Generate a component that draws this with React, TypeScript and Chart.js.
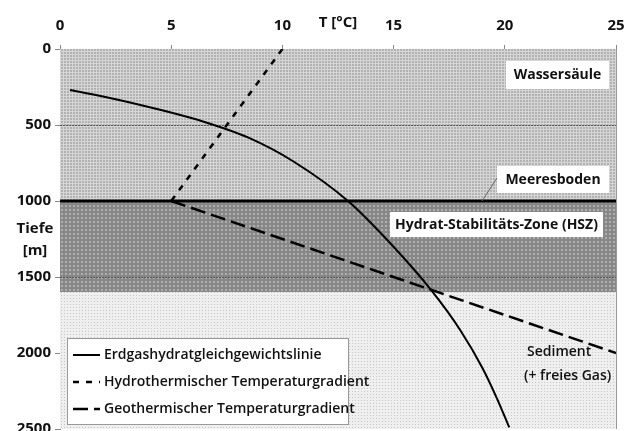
import React, { useEffect, useRef } from "react";
import { Chart, registerables } from "chart.js";

Chart.register(...registerables);

// ---- data ----
const tempRange = [0, 25];
const depthRange = [0, 2500];
const tempStep = 5;
const depthStep = 500;

const equilibriumT = [0.45, 2.5, 4.5, 6.5, 8.5, 10.5, 12.95, 14.8, 16.7, 18.0, 19.0, 19.65, 20.2];
const equilibriumD = [270, 330, 400, 480, 585, 740, 1000, 1270, 1588, 1850, 2100, 2300, 2490];

const hydroT = [10, 5];
const hydroD = [0, 1000];

const geoT = [5, 25];
const geoD = [1000, 2000];

const seafloorDepth = 1000;
const hszBottomDepth = 1600;
const dashedGridDepths = [500, 1500];

const seriesNames = [
  "Erdgashydratgleichgewichtslinie",
  "Hydrothermischer Temperaturgradient",
  "Geothermischer Temperaturgradient",
];
const xTitle = "T [°C]";
const yTitle = ["Tiefe", "[m]"];
const zoneWater = "Wassersäule";
const zoneSeafloor = "Meeresboden";
const zoneHsz = "Hydrat-Stabilitäts-Zone (HSZ)";
const zoneSediment = ["Sediment", "(+ freies Gas)"];

const FONT = "'Open Sans', 'DejaVu Sans', sans-serif";

function toPoints(xs: number[], ys: number[]) {
  return xs.map((x, i) => ({ x, y: ys[i] }));
}

function makePattern(
  size: number,
  base: string,
  draw: (c: CanvasRenderingContext2D) => void
): CanvasPattern | string {
  const cv = document.createElement("canvas");
  cv.width = size;
  cv.height = size;
  const c = cv.getContext("2d");
  if (!c) return base;
  c.fillStyle = base;
  c.fillRect(0, 0, size, size);
  draw(c);
  const ctx = document.createElement("canvas").getContext("2d");
  const p = ctx ? ctx.createPattern(cv, "repeat") : null;
  return p || base;
}

export default function App() {
  const ref = useRef<HTMLCanvasElement | null>(null);

  useEffect(() => {
    document.body.style.margin = "0";
    const canvas = ref.current;
    if (!canvas) return;

    const waterPat = makePattern(3, "#b2b2b2", (c) => {
      c.fillStyle = "#d6d6d6";
      c.fillRect(0, 0, 3, 1);
      c.fillRect(0, 0, 1, 3);
    });
    const hszPat = makePattern(4, "#878787", (c) => {
      c.fillStyle = "#aeaeae";
      c.fillRect(1, 1, 2, 2);
    });
    const sedPat = makePattern(3, "#efefef", (c) => {
      c.fillStyle = "#c6c6c6";
      c.fillRect(1, 1, 1, 1);
    });

    const bgPlugin = {
      id: "bands",
      beforeDatasetsDraw(chart: any) {
        const { ctx, chartArea, scales } = chart;
        const { left, right, top, bottom } = chartArea;
        const y = scales.y;
        const ySea = y.getPixelForValue(seafloorDepth);
        const yHsz = y.getPixelForValue(hszBottomDepth);
        ctx.save();
        ctx.fillStyle = waterPat;
        ctx.fillRect(left, top, right - left, ySea - top);
        ctx.fillStyle = hszPat;
        ctx.fillRect(left, ySea, right - left, yHsz - ySea);
        ctx.fillStyle = sedPat;
        ctx.fillRect(left, yHsz, right - left, bottom - yHsz);

        ctx.strokeStyle = "#555";
        ctx.lineWidth = 1;
        ctx.setLineDash([2, 1]);
        dashedGridDepths.forEach((d) => {
          const py = Math.round(y.getPixelForValue(d)) + 0.5;
          ctx.beginPath();
          ctx.moveTo(left, py);
          ctx.lineTo(right, py);
          ctx.stroke();
        });
        ctx.setLineDash([]);

        ctx.strokeStyle = "#999";
        ctx.beginPath();
        ctx.moveTo(right + 0.5, top);
        ctx.lineTo(right + 0.5, bottom);
        ctx.stroke();

        ctx.strokeStyle = "#000";
        ctx.lineWidth = 3;
        ctx.beginPath();
        ctx.moveTo(left, ySea);
        ctx.lineTo(right, ySea);
        ctx.stroke();
        ctx.restore();
      },
      afterDraw(chart: any) {
        const { ctx, chartArea, scales } = chart;
        const { left, right } = chartArea;
        const y = scales.y;
        const x = scales.x;
        const ySea = y.getPixelForValue(seafloorDepth);
        ctx.save();
        ctx.textBaseline = "middle";
        ctx.textAlign = "center";
        ctx.fillStyle = "#111";
        ctx.font = `bold 15px ${FONT}`;
        ctx.fillText(xTitle, (x.getPixelForValue(10) + x.getPixelForValue(15)) / 2, 23);
        ctx.fillText(yTitle[0], 35, ySea + 28);
        ctx.fillText(yTitle[1], 35, ySea + 50);

        const box = (text: string, bx: number, by: number, bw: number, bh: number) => {
          ctx.fillStyle = "#fff";
          ctx.fillRect(bx, by, bw, bh);
          ctx.fillStyle = "#111";
          ctx.font = `bold 14px ${FONT}`;
          ctx.textAlign = "center";
          ctx.fillText(text, bx + bw / 2, by + bh / 2 + 0.5);
        };
        box(zoneWater, right - 110, chartArea.top + 12, 103, 28);
        ctx.strokeStyle = "#666";
        ctx.lineWidth = 1;
        ctx.beginPath();
        ctx.moveTo(right - 119, ySea - 23);
        ctx.lineTo(right - 134, ySea);
        ctx.stroke();
        box(zoneSeafloor, right - 119, ySea - 35, 112, 27);
        box(zoneHsz, right - 226, ySea + 11, 213, 25);

        ctx.fillStyle = "#111";
        ctx.font = `600 14px ${FONT}`;
        ctx.textAlign = "left";
        ctx.fillText(zoneSediment[0], right - 89, y.getPixelForValue(2000) - 1);
        ctx.fillText(zoneSediment[1], right - 92, y.getPixelForValue(2000) + 23);

        const lx = left + 7;
        const ly = 338;
        const lw = 281;
        const lh = 86;
        ctx.fillStyle = "#fff";
        ctx.fillRect(lx, ly, lw, lh);
        ctx.strokeStyle = "#999";
        ctx.lineWidth = 1;
        ctx.strokeRect(lx + 0.5, ly + 0.5, lw, lh);
        chart.data.datasets.forEach((ds: any, i: number) => {
          const ry = ly + 17 + i * 27;
          ctx.strokeStyle = ds.borderColor;
          ctx.lineWidth = ds.borderWidth;
          ctx.setLineDash(ds.borderDash || []);
          ctx.beginPath();
          ctx.moveTo(lx + 6, ry);
          ctx.lineTo(lx + 33, ry);
          ctx.stroke();
          ctx.setLineDash([]);
          ctx.fillStyle = "#111";
          ctx.font = `600 14px ${FONT}`;
          ctx.textAlign = "left";
          ctx.fillText(ds.label, lx + 37, ry);
        });
        ctx.restore();
      },
    };

    const chart = new Chart(canvas, {
      type: "line",
      data: {
        datasets: [
          {
            label: seriesNames[0],
            data: toPoints(equilibriumT, equilibriumD),
            borderColor: "#000",
            borderWidth: 2,
            pointRadius: 0,
            cubicInterpolationMode: "monotone",
            fill: false,
          },
          {
            label: seriesNames[1],
            data: toPoints(hydroT, hydroD),
            borderColor: "#000",
            borderWidth: 2.5,
            borderDash: [6, 7],
            pointRadius: 0,
            fill: false,
          },
          {
            label: seriesNames[2],
            data: toPoints(geoT, geoD),
            borderColor: "#000",
            borderWidth: 2.5,
            borderDash: [15, 6],
            pointRadius: 0,
            fill: false,
          },
        ],
      } as any,
      options: {
        animation: false,
        responsive: false,
        devicePixelRatio: 1,
        layout: { padding: { top: 0, left: 0, right: 16, bottom: 2 } },
        plugins: {
          legend: { display: false },
          tooltip: { enabled: false },
        },
        scales: {
          x: {
            type: "linear",
            position: "top",
            min: tempRange[0],
            max: tempRange[1],
            ticks: {
              stepSize: tempStep,
              color: "#111",
              font: { family: FONT, size: 15, weight: "bold" },
              padding: 10,
              callback: (v: any) => String(v),
            },
            grid: { drawOnChartArea: false, tickLength: 4, color: "#888" },
            border: { color: "#999" },
            afterFit: (s: any) => {
              s.height = 49;
              s.paddingLeft = 0;
              s.paddingRight = 0;
            },
          },
          y: {
            type: "linear",
            reverse: true,
            min: depthRange[0],
            max: depthRange[1],
            ticks: {
              stepSize: depthStep,
              color: "#111",
              font: { family: FONT, size: 15, weight: "bold" },
              padding: 4,
              callback: (v: any) => String(v),
            },
            grid: { drawOnChartArea: false, tickLength: 5, color: "#888" },
            border: { color: "#999" },
            afterFit: (s: any) => {
              s.width = 60;
              s.paddingTop = 0;
              s.paddingBottom = 0;
            },
          },
        },
      } as any,
      plugins: [bgPlugin],
    });
    return () => chart.destroy();
  }, []);

  return <canvas ref={ref} width={632} height={431} style={{ display: "block" }} />;
}
